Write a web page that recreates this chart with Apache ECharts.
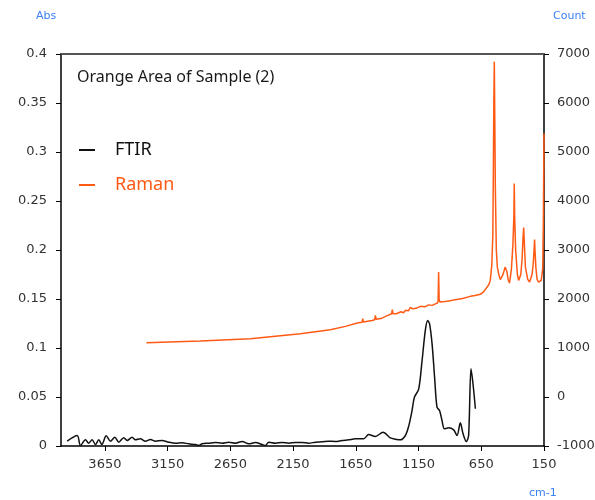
<!DOCTYPE html>
<html>
<head>
<meta charset="utf-8">
<script src="https://cdn.jsdelivr.net/npm/echarts@6/dist/echarts.min.js"></script>
<style>html,body{margin:0;padding:0;background:#fff;}#c{width:595px;height:500px;}</style>
</head>
<body>
<div id="c"></div>
<script>
// FTIR spectrum (left axis, Abs)
var ftirWavenumbers = [3951,3871,3845,3805,3779,3752,3725,3699,3674,3640,3606,3571,3540,3500,3473,3433,3407,3367,3327,3287,3247,3194,3141,3088,3034,2982,2928,2902,2875,2822,2769,2716,2663,2608,2556,2504,2450,2397,2371,2344,2291,2238,2185,2132,2078,2026,1972,1919,1866,1813,1760,1707,1654,1587,1548,1494,1433,1375,1335,1295,1255,1229,1202,1183,1149,1122,1096,1077,1062,1042,1022,1003,982,963,944,910,870,843,817,795,769,751,732,716,697];
var ftirAbs = [0.0049,0.0107,0.0005,0.0063,0.0029,0.0063,0.0015,0.0063,0.0015,0.0104,0.0049,0.009,0.0039,0.0084,0.0056,0.009,0.0063,0.0073,0.0049,0.0066,0.0049,0.0056,0.0039,0.0029,0.0033,0.0022,0.0015,0.0005,0.0022,0.0029,0.0036,0.0029,0.0039,0.0029,0.0046,0.0022,0.0036,0.0015,0.0005,0.0039,0.0029,0.0036,0.0029,0.0036,0.0036,0.0029,0.0039,0.0043,0.0049,0.0046,0.0056,0.0063,0.0073,0.0073,0.0117,0.0097,0.0141,0.0083,0.007,0.0063,0.0107,0.02,0.036,0.0498,0.058,0.087,0.118,0.128,0.1247,0.104,0.070,0.0396,0.036,0.026,0.0175,0.0186,0.0165,0.0107,0.0237,0.0124,0.0046,0.0107,0.0788,0.0635,0.038];

// Raman spectrum (right axis, Count)
var ramanWavenumbers = [3319,2889,2490,2092,1853,1733,1630,1600,1595,1590,1582,1520,1500,1494,1488,1450,1400,1390,1364,1359,1354,1327,1290,1270,1255,1230,1215,1210,1198,1170,1135,1100,1070,1040,1016,1000,994,990,986,980,968,940,910,880,857,800,737,700,657,630,618,590,578,566,558,554,550,546,542,538,530,522,510,498,480,470,460,453,446,436,425,410,398,390,387,384,376,362,352,335,325,318,312,306,298,280,265,245,235,228,225,222,215,205,193,172,165,160,155,150];
var ramanCounts = [1108,1141,1190,1292,1374,1441,1517,1525,1599,1530,1543,1560,1575,1666,1585,1600,1660,1680,1700,1783,1700,1700,1740,1720,1768,1760,1830,1790,1800,1810,1850,1840,1880,1870,1900,1918,1960,2551,1990,1940,1918,1950,1960,1975,1987,2010,2054,2070,2095,2150,2190,2290,2380,2700,3300,4500,6000,6841,5600,4300,3000,2650,2500,2396,2480,2560,2650,2673,2560,2400,2326,2600,3100,3700,4357,3700,3000,2500,2380,2500,2800,3200,3458,3100,2650,2400,2346,2500,2750,3050,3213,3000,2650,2400,2346,2380,2416,2626,3600,5378];

var xTickValues = [150,650,1150,1650,2150,2650,3150,3650];
var seriesNames = ['FTIR','Raman'];
var titleText = 'Orange Area of Sample (2)';

function pairs(xs, ys){ var out=[]; for(var i=0;i<xs.length;i++){ out.push([xs[i], ys[i]]); } return out; }

var chart = echarts.init(document.getElementById('c'), null, {renderer:'canvas'});
var labelFont = 'DejaVu Sans';
var option = {
  animation: false,
  backgroundColor: '#ffffff',
  title: {
    text: titleText, left: 72, top: 64,
    textStyle: {fontFamily: 'Noto Sans', fontSize: 16, fontWeight: 'normal', color: '#1a1a1a'}
  },
  legend: {
    orient: 'vertical', left: 74, top: 136, itemGap: 17, itemWidth: 16, itemHeight: 2,
    icon: 'rect', selectedMode: false,
    data: [
      {name: seriesNames[0], textStyle: {color: '#111111'}},
      {name: seriesNames[1], textStyle: {color: '#ff5a14'}}
    ],
    textStyle: {fontFamily: 'Noto Sans', fontSize: 18, padding: [0,0,0,15]}
  },
  grid: {left: 61, right: 51, top: 54, bottom: 54, outerBoundsMode: 'none', containLabel: false},
  xAxis: [{
    type: 'value', inverse: true, min: 150, max: 4000, interval: 500,
    axisLine: {show: true, lineStyle: {color: '#000', width: 1.5}},
    axisTick: {show: true, length: 5, customValues: xTickValues, lineStyle: {color: '#000', width: 1}},
    axisLabel: {
      margin: 12, color: '#333', fontFamily: labelFont, fontSize: 13, customValues: xTickValues,
      formatter: function(v){ return xTickValues.indexOf(v) >= 0 ? String(v) : ''; }
    },
    splitLine: {show: false}
  },{
    type: 'value', position: 'top', min: 0, max: 1,
    axisLine: {show: true, onZero: false, lineStyle: {color: '#555', width: 2}},
    axisTick: {show: false}, axisLabel: {show: false}, splitLine: {show: false}
  }],
  yAxis: [{
    type: 'value', min: 0, max: 0.4, interval: 0.05, position: 'left',
    axisLine: {show: true, lineStyle: {color: '#000', width: 1.5}},
    axisTick: {show: true, length: 5, lineStyle: {color: '#000', width: 1}},
    axisLabel: {margin: 14, color: '#333', fontFamily: labelFont, fontSize: 13},
    splitLine: {show: false}
  },{
    type: 'value', min: -1000, max: 7000, interval: 1000, position: 'right',
    axisLine: {show: true, lineStyle: {color: '#000', width: 1.5}},
    axisTick: {show: true, length: 5, lineStyle: {color: '#000', width: 1}},
    axisLabel: {margin: 13, color: '#333', fontFamily: labelFont, fontSize: 13,
      formatter: function(v){ return String(v); }},
    splitLine: {show: false}
  }],
  graphic: [
    {type: 'text', left: 36, top: 11, style: {text: 'Abs', fill: '#3b82f6', font: '11px "DejaVu Sans"'}},
    {type: 'text', left: 553, top: 11, style: {text: 'Count', fill: '#3b82f6', font: '11px "DejaVu Sans"'}},
    {type: 'text', left: 529, top: 488, style: {text: 'cm-1', fill: '#3b82f6', font: '11px "DejaVu Sans"'}}
  ],
  series: [{
    name: seriesNames[0], type: 'line', xAxisIndex: 0, yAxisIndex: 0,
    data: pairs(ftirWavenumbers, ftirAbs), showSymbol: false, smooth: 0.3,
    lineStyle: {color: '#111111', width: 1.5}, itemStyle: {color: '#111111'}
  },{
    name: seriesNames[1], type: 'line', xAxisIndex: 0, yAxisIndex: 1,
    data: pairs(ramanWavenumbers, ramanCounts), showSymbol: false,
    lineStyle: {color: '#ff5a14', width: 1.5}, itemStyle: {color: '#ff5a14'}
  }]
};
chart.setOption(option);
</script>
</body>
</html>
